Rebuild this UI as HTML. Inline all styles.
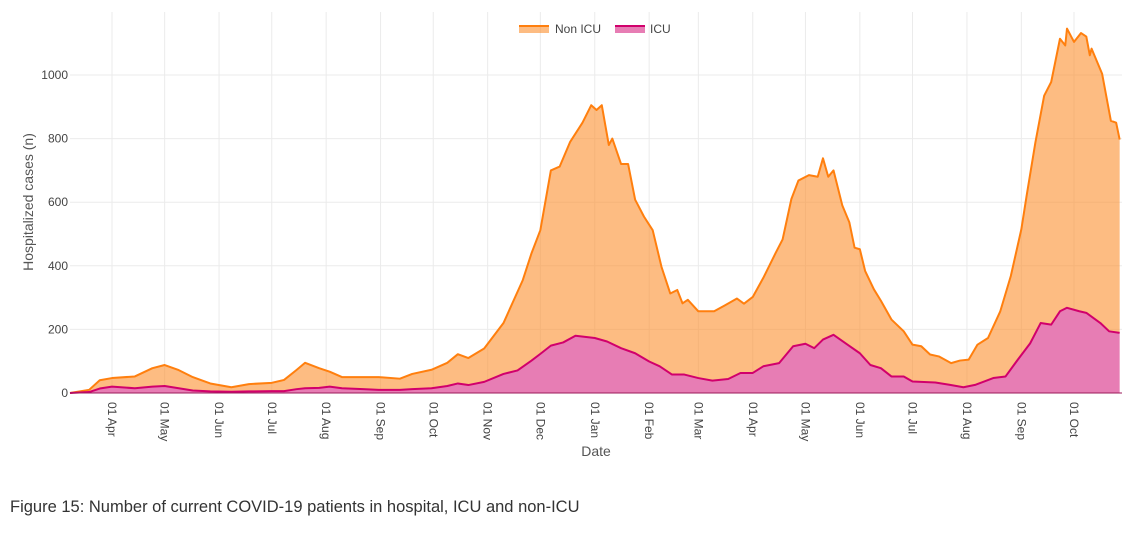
<!DOCTYPE html>
<html><head><meta charset="utf-8"><style>
html,body{margin:0;padding:0;background:#fff;}
body{width:1135px;height:551px;overflow:hidden;position:relative;font-family:"Liberation Sans",sans-serif;}
#cap{position:absolute;left:10px;top:498px;font-size:16.5px;color:#333;white-space:nowrap;}
</style></head><body>
<svg id="chart" width="1135" height="480" style="position:absolute;left:0;top:0" font-family="Liberation Sans, sans-serif"></svg>
<div id="cap">Figure 15: Number of current COVID-19 patients in hospital, ICU and non-ICU</div>
<script>
const totalDates=["2020-03-08","2020-03-19","2020-03-25","2020-04-01","2020-04-14","2020-04-24","2020-05-01","2020-05-09","2020-05-17","2020-05-27","2020-06-08","2020-06-18","2020-07-01","2020-07-08","2020-07-15","2020-07-20","2020-07-28","2020-08-03","2020-08-10","2020-08-22","2020-08-31","2020-09-12","2020-09-19","2020-09-30","2020-10-09","2020-10-15","2020-10-21","2020-10-30","2020-11-10","2020-11-21","2020-11-26","2020-12-01","2020-12-07","2020-12-12","2020-12-18","2020-12-25","2020-12-30","2021-01-02","2021-01-05","2021-01-09","2021-01-11","2021-01-16","2021-01-20","2021-01-24","2021-01-29","2021-02-03","2021-02-08","2021-02-13","2021-02-17","2021-02-20","2021-02-23","2021-03-01","2021-03-10","2021-03-16","2021-03-23","2021-03-27","2021-04-01","2021-04-07","2021-04-14","2021-04-18","2021-04-23","2021-04-27","2021-05-03","2021-05-08","2021-05-11","2021-05-14","2021-05-17","2021-05-22","2021-05-26","2021-05-29","2021-06-01","2021-06-04","2021-06-09","2021-06-13","2021-06-19","2021-06-26","2021-07-01","2021-07-06","2021-07-11","2021-07-16","2021-07-23","2021-07-28","2021-08-02","2021-08-07","2021-08-13","2021-08-20","2021-08-26","2021-09-01","2021-09-04","2021-09-09","2021-09-14","2021-09-18","2021-09-23","2021-09-26","2021-09-27","2021-10-01","2021-10-05","2021-10-08","2021-10-10","2021-10-11","2021-10-17","2021-10-22","2021-10-25","2021-10-27"];
const totalValues=[0,10,40,47,52,78,88,72,50,30,18,28,32,41,72,95,78,67,50,50,50,45,60,73,95,122,110,140,220,355,440,512,700,712,790,850,905,890,905,780,800,720,720,608,555,512,397,313,324,282,293,257,257,275,297,281,302,362,440,483,610,668,685,680,738,680,700,590,537,457,452,384,326,290,231,194,152,147,121,115,94,102,105,152,173,257,368,515,620,788,935,978,1114,1093,1146,1104,1132,1121,1062,1083,1004,856,850,797];
const icuDates=["2020-03-08","2020-03-19","2020-03-25","2020-04-01","2020-04-14","2020-04-24","2020-05-01","2020-05-09","2020-05-17","2020-05-27","2020-06-08","2020-06-18","2020-07-01","2020-07-08","2020-07-15","2020-07-20","2020-07-28","2020-08-03","2020-08-10","2020-08-22","2020-08-31","2020-09-12","2020-09-19","2020-09-30","2020-10-09","2020-10-15","2020-10-21","2020-10-30","2020-11-10","2020-11-18","2020-11-26","2020-12-01","2020-12-07","2020-12-14","2020-12-21","2021-01-01","2021-01-08","2021-01-16","2021-01-24","2021-02-01","2021-02-07","2021-02-14","2021-02-21","2021-03-01","2021-03-09","2021-03-18","2021-03-25","2021-04-01","2021-04-07","2021-04-16","2021-04-24","2021-05-01","2021-05-06","2021-05-11","2021-05-17","2021-05-25","2021-06-01","2021-06-07","2021-06-13","2021-06-19","2021-06-26","2021-07-01","2021-07-14","2021-07-22","2021-07-30","2021-08-06","2021-08-16","2021-08-23","2021-08-30","2021-09-06","2021-09-12","2021-09-18","2021-09-23","2021-09-27","2021-10-04","2021-10-08","2021-10-16","2021-10-21","2021-10-27"];
const icuValues=[0,3,14,20,15,20,22,15,8,5,4,5,6,6,12,15,16,20,15,12,10,10,12,15,22,30,25,35,60,71,102,123,149,159,180,173,162,141,125,99,84,58,58,47,39,44,63,63,84,94,147,155,141,168,183,152,125,88,78,52,52,36,33,26,18,26,47,52,105,156,220,215,257,268,257,252,220,194,189];
const yTicks=[0,200,400,600,800,1000];
const xTickDates=["2020-04-01","2020-05-01","2020-06-01","2020-07-01","2020-08-01","2020-09-01","2020-10-01","2020-11-01","2020-12-01","2021-01-01","2021-02-01","2021-03-01","2021-04-01","2021-05-01","2021-06-01","2021-07-01","2021-08-01","2021-09-01","2021-10-01"];
const xTickLabels=["01 Apr","01 May","01 Jun","01 Jul","01 Aug","01 Sep","01 Oct","01 Nov","01 Dec","01 Jan","01 Feb","01 Mar","01 Apr","01 May","01 Jun","01 Jul","01 Aug","01 Sep","01 Oct"];

const L=70,R=1122,T=12,B=393;
const ref=Date.UTC(2020,3,1),DAY=86400000;
function dnum(s){const p=s.split('-');return (Date.UTC(+p[0],+p[1]-1,+p[2])-ref)/DAY;}
function xs(s){return Math.min(R,Math.max(L,112+dnum(s)*1.7555));}
function ys(v){return B-v*0.318;}
const NS='http://www.w3.org/2000/svg';
const svg=document.getElementById('chart');
function mk(t,a,parent){const e=document.createElementNS(NS,t);for(const k in a)e.setAttribute(k,a[k]);(parent||svg).appendChild(e);return e;}

const grid=mk('g',{});


yTicks.forEach(v=>{mk('line',{x1:L,x2:R,y1:ys(v),y2:ys(v),stroke:'#ebebeb','stroke-width':1},grid);});
xTickDates.forEach(d=>{mk('line',{x1:xs(d),x2:xs(d),y1:T,y2:B,stroke:'#ebebeb','stroke-width':1},grid);});

const icuPts=icuDates.map((d,i)=>[xs(d),ys(icuValues[i])]);
const totPts=totalDates.map((d,i)=>[xs(d),ys(totalValues[i])]);
let nonArea='M'+totPts.map(p=>p.join(',')).join('L');
for(let i=icuPts.length-1;i>=0;i--)nonArea+='L'+icuPts[i].join(',');
nonArea+='Z';
const nonFill=mk('path',{d:nonArea,fill:'rgba(252,140,40,0.58)',stroke:'none'});


let icuArea='M'+xs(icuDates[0])+','+B+'L'+icuPts.map(p=>p.join(',')).join('L')+'L'+icuPts[icuPts.length-1][0]+','+B+'Z';
const icuFill=mk('path',{d:icuArea,fill:'#e77db4',stroke:'none'});


const totLine=mk('path',{d:'M'+totPts.map(p=>p.join(',')).join('L'),fill:'none',stroke:'#ff7f0e','stroke-width':2,'stroke-linejoin':'round'});


const icuLine=mk('path',{d:'M'+icuPts.map(p=>p.join(',')).join('L'),fill:'none',stroke:'#d1006c','stroke-width':2,'stroke-linejoin':'round'});


const axl=mk('line',{x1:L,x2:R,y1:B,y2:B,stroke:'#9b1a5a','stroke-width':1});



yTicks.forEach(v=>{const t=mk('text',{x:68,y:ys(v)+4,'text-anchor':'end','font-size':12,fill:'#444'});t.textContent=v;

});
xTickDates.forEach((d,i)=>{const x=xs(d);const t=mk('text',{x:0,y:0,'font-size':12,fill:'#444',transform:`translate(${x-4},402) rotate(90)`});t.textContent=xTickLabels[i];

});
const yt=mk('text',{x:0,y:0,'font-size':14,fill:'#555','text-anchor':'middle',transform:'translate(33,202) rotate(-90)'});yt.textContent='Hospitalized cases (n)';


const xt=mk('text',{x:596,y:456,'font-size':14,fill:'#555','text-anchor':'middle'});xt.textContent='Date';



const lg=mk('g',{});


const l1=mk('g',{},lg);


mk('rect',{x:519,y:26,width:30,height:7,fill:'rgba(252,140,40,0.58)'},l1);
mk('line',{x1:519,x2:549,y1:26,y2:26,stroke:'#ff7f0e','stroke-width':2},l1);
const lt1=mk('text',{x:555,y:33,'font-size':12,fill:'#444'},l1);lt1.textContent='Non ICU';
const l2=mk('g',{},lg);


mk('rect',{x:615,y:26,width:30,height:7,fill:'#e77db4'},l2);
mk('line',{x1:615,x2:645,y1:26,y2:26,stroke:'#d1006c','stroke-width':2},l2);
const lt2=mk('text',{x:650,y:33,'font-size':12,fill:'#444'},l2);lt2.textContent='ICU';
</script>
</body></html>
